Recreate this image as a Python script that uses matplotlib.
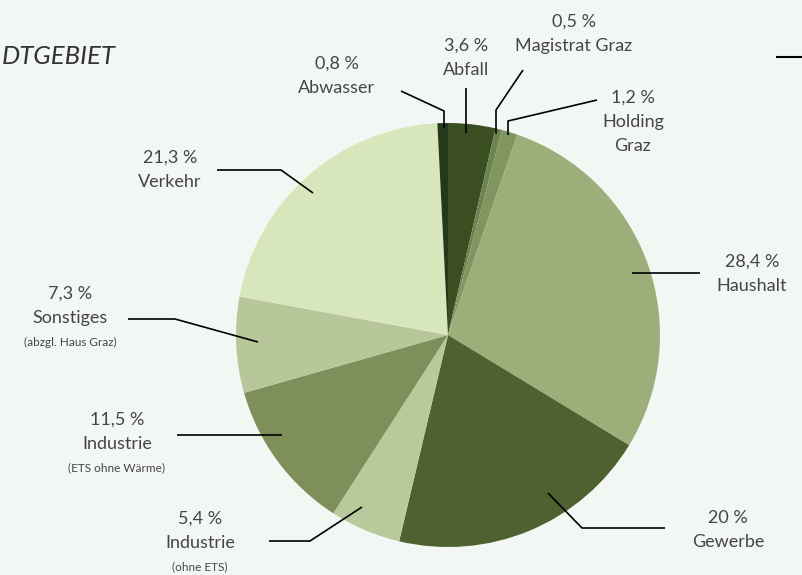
import matplotlib.pyplot as plt

# Daten (im Uhrzeigersinn ab 12 Uhr)
labels = ['Abfall', 'Magistrat Graz', 'Holding\nGraz', 'Haushalt', 'Gewerbe',
          'Industrie', 'Industrie', 'Sonstiges', 'Verkehr', 'Abwasser']
sublabels = ['', '', '', '', '', '(ohne ETS)', '(ETS ohne Wärme)', '(abzgl. Haus Graz)', '', '']
shares = [3.6, 0.5, 1.2, 28.4, 20, 5.4, 11.5, 7.3, 21.3, 0.8]
colors = ['#3a4e22', '#6c8550', '#80955f', '#9caf7b', '#4e6130',
          '#b8c99c', '#7f8f5c', '#b7c799', '#d8e6bc', '#23391a']

W, H = 803, 575
BG = '#f3f7f3'
TXT = '#454545'

plt.rcParams['font.family'] = ['Lato', 'DejaVu Sans']

fig = plt.figure(figsize=(W / 100, H / 100), dpi=100, facecolor=BG)
ax = fig.add_axes([0, 0, 1, 1])
ax.set_facecolor(BG)

# Torte (Mittelpunkt und Radius in Pixeln)
cx, cy, R = 448, H - 335, 212
ax.pie(shares, colors=colors, startangle=90, counterclock=False,
       center=(cx, cy), radius=R, wedgeprops=dict(edgecolor='none'), frame=True)
ax.set_xlim(0, W)
ax.set_ylim(0, H)
ax.set_aspect('equal')
ax.axis('off')

# Führungslinien (Pixel, y von oben) und Beschriftungsposition
leaders = [
    [(466, 133), (466, 88)],
    [(496, 134), (496, 110), (523, 70)],
    [(508, 135), (508, 121), (597, 100)],
    [(632, 273), (700, 273)],
    [(548, 493), (582, 528), (665, 528)],
    [(362, 507), (310, 541), (269, 541)],
    [(282, 435), (177, 435)],
    [(258, 342), (175, 319), (128, 319)],
    [(313, 193), (281, 170), (217, 170)],
    [(444, 128), (444, 111), (401, 91)],
]
label_pos = [(466, 46), (574, 22), (633, 98), (752, 262), (728, 518),
             (200, 519), (117, 420), (70, 294), (170, 158), (337, 64)]

for pts, (lx, ly), lab, sub, val in zip(leaders, label_pos, labels, sublabels, shares):
    xs = [p[0] for p in pts]
    ys = [H - p[1] for p in pts]
    ax.plot(xs, ys, color='black', lw=1.2, solid_capstyle='butt')
    txt = f'{val:g} %'.replace('.', ',')
    lines = [txt] + lab.split('\n')
    for i, s in enumerate(lines):
        ax.text(lx, H - (ly + i * 24), s, ha='center', va='center',
                fontsize=13, color=TXT)
    if sub:
        ax.text(lx, H - (ly + len(lines) * 24), sub, ha='center', va='center',
                fontsize=8.5, color=TXT)

# Titel (links angeschnitten im Original) und Linie oben rechts
ax.text(116, H - 57, 'DTGEBIET', ha='right', va='center', fontsize=18.5,
        style='italic', color='#333333')
ax.plot([777, W], [H - 57, H - 57], color='black', lw=1.5)

fig.savefig('out.png', dpi=100, facecolor=BG)
